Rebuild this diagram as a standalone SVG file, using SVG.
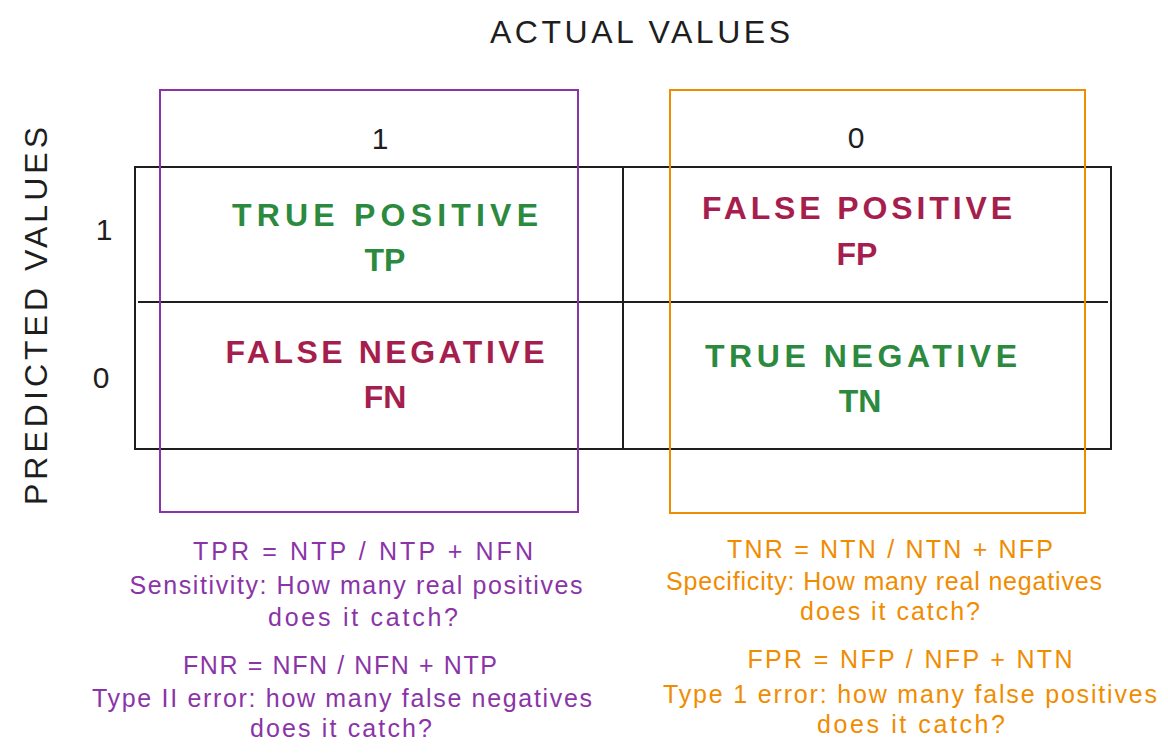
<svg xmlns="http://www.w3.org/2000/svg" width="1168" height="755" viewBox="0 0 1168 755">
  <style>
    text { font-family: "Liberation Sans", Arial, sans-serif; }
    .grid { fill: none; stroke: #1e1e1e; stroke-width: 2; }
    .axis { font-size: 32px; fill: #1e1e1e; text-anchor: middle; }
    .num { font-size: 30px; fill: #1e1e1e; text-anchor: middle; }
    .cell { font-size: 32px; font-weight: bold; text-anchor: middle; }
    .good { fill: #2b8a3e; }
    .bad { fill: #a61e4d; }
    .note { font-size: 25px; text-anchor: middle; }
    .violet { fill: #8b34a8; }
    .orange { fill: #f08c00; }
  </style>

  <!-- axis titles -->
  <g id="actual-title">
    <text class="axis" x="640" y="43" textLength="300">ACTUAL VALUES</text>
  </g>
  <g id="predicted-title">
    <text class="axis" transform="translate(47 316) rotate(-90)" x="0" y="0" textLength="378">PREDICTED VALUES</text>
  </g>

  <!-- matrix grid -->
  <g id="matrix">
    <rect class="grid" x="135" y="167" width="976" height="282"/>
    <line class="grid" x1="623" y1="167" x2="623" y2="449"/>
    <line class="grid" x1="138" y1="302" x2="1108" y2="302"/>
  </g>

  <!-- column highlight frames -->
  <g id="positive-column">
    <rect x="160" y="90" width="418" height="422" fill="none" stroke="#8b34a8" stroke-width="2"/>
  </g>
  <g id="negative-column">
    <rect x="670" y="90" width="415" height="423" fill="none" stroke="#f08c00" stroke-width="2"/>
  </g>

  <!-- class labels -->
  <g id="col-labels">
    <text class="num" x="380" y="149">1</text>
    <text class="num" x="856" y="148">0</text>
  </g>
  <g id="row-labels">
    <text class="num" x="104" y="240">1</text>
    <text class="num" x="101" y="388">0</text>
  </g>

  <!-- cells -->
  <g id="cell-tp">
    <text class="cell good" x="385" y="226" textLength="306">TRUE POSITIVE</text>
    <text class="cell good" x="385" y="271">TP</text>
  </g>
  <g id="cell-fp">
    <text class="cell bad" x="857" y="219" textLength="310">FALSE POSITIVE</text>
    <text class="cell bad" x="857" y="265">FP</text>
  </g>
  <g id="cell-fn">
    <text class="cell bad" x="385" y="363" textLength="319">FALSE NEGATIVE</text>
    <text class="cell bad" x="385" y="408">FN</text>
  </g>
  <g id="cell-tn">
    <text class="cell good" x="861" y="367" textLength="312">TRUE NEGATIVE</text>
    <text class="cell good" x="860" y="412">TN</text>
  </g>

  <!-- rate notes -->
  <g id="tpr-note">
    <text class="note violet" x="363" y="560" textLength="340">TPR = NTP / NTP + NFN</text>
    <text class="note violet" x="356" y="594" textLength="453">Sensitivity: How many real positives</text>
    <text class="note violet" x="363" y="626" textLength="190">does it catch?</text>
  </g>
  <g id="fnr-note">
    <text class="note violet" x="340" y="674" textLength="314">FNR = NFN / NFN + NTP</text>
    <text class="note violet" x="342" y="707" textLength="500">Type II error: how many false negatives</text>
    <text class="note violet" x="341" y="737" textLength="182">does it catch?</text>
  </g>
  <g id="tnr-note">
    <text class="note orange" x="890" y="558" textLength="326">TNR = NTN / NTN + NFP</text>
    <text class="note orange" x="884" y="590" textLength="436">Specificity: How many real negatives</text>
    <text class="note orange" x="890" y="620" textLength="180">does it catch?</text>
  </g>
  <g id="fpr-note">
    <text class="note orange" x="910" y="668" textLength="325">FPR = NFP / NFP + NTN</text>
    <text class="note orange" x="910" y="703" textLength="494">Type 1 error: how many false positives</text>
    <text class="note orange" x="911" y="733" textLength="188">does it catch?</text>
  </g>
</svg>
